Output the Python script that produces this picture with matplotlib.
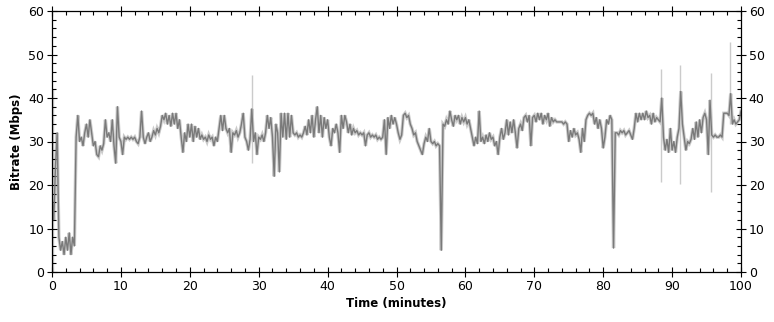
import numpy as np
import matplotlib
matplotlib.use("Agg")
import matplotlib.pyplot as plt
from matplotlib.ticker import MultipleLocator

# Time step of the sampled series (minutes)
step = 0.25
# Bitrate (Mbps), one row per 5 minutes, sampled every 0.25 minute
bitrate = [
    18, 12, 24, 32, 8, 5, 7, 4, 8, 5, 9, 4, 8, 6, 31, 36, 30, 31, 29, 32,
    34, 31, 35, 32, 29, 30, 27, 26.5, 29, 28, 29.5, 35, 31, 32, 30, 35, 29, 25, 38, 31,
    30, 27, 31, 30.5, 31, 30.5, 31, 30.5, 31, 30, 29.5, 31, 37, 31, 29.5, 31, 32, 30, 31, 32.5,
    31.5, 33, 32, 33.5, 36, 35, 36.5, 34, 36, 33.5, 36.5, 34, 36.5, 33, 35, 31, 27.5, 32, 30, 34,
    31, 34, 30, 33.5, 31, 33, 30.5, 31.5, 30.5, 31, 30, 31.5, 30.5, 31, 29, 31, 30, 33, 36, 32.5,
    36, 33, 32, 33, 27.5, 32, 31.5, 32.5, 31, 32, 34, 36.5, 31, 30, 28, 30.5, 37.5, 30, 32, 27,
    31, 30.5, 31.5, 30, 32, 36, 33, 35.5, 31, 22, 34, 32, 23, 36.5, 31, 36.5, 30.5, 36.5, 31, 36,
    32, 31.5, 32, 31, 31.5, 31, 32, 33.5, 31.5, 35, 32, 36, 31, 35, 38, 32, 36, 31, 35.5, 33,
    35, 31, 29, 33, 32, 34, 32, 27.5, 36, 33, 36, 34.5, 32, 34, 31.5, 33, 32, 32.5, 31.5, 32,
    31.5, 32, 29, 31.5, 32, 31, 31.5, 31, 31.5, 30.5, 31, 30.5, 31, 35, 27, 35.5, 33, 36, 34, 35.5,
    34, 32, 30.5, 31.5, 36, 36.5, 35.5, 36, 34, 33, 31.5, 32, 30, 29, 28, 27, 29.5, 31, 30, 33,
    30, 29.5, 30, 29, 29.5, 29, 5, 34, 33.5, 35, 34, 37, 35, 33.5, 36, 35, 36, 34, 35.5, 34.5,
    35.5, 34, 35, 33, 31, 29, 31, 29.5, 37, 30, 31, 29.5, 31.5, 30, 32, 30.5, 31, 29, 30, 27,
    31, 33, 30.5, 32, 35, 31.5, 34.5, 32, 35, 32, 28.5, 33, 34, 32.5, 35.5, 36, 34.5, 36, 29, 35.5,
    36, 34.5, 36.5, 35, 36.5, 34, 36, 35, 36.5, 33.5, 35.5, 34.5, 35, 34.5, 34.5, 34.5, 34.5, 34, 34.5, 34,
    30, 32.5, 31, 33, 31.5, 32, 30.5, 27.5, 33, 30, 35, 36, 36.5, 36, 36.5, 34, 35.5, 33, 35, 33,
    28.5, 31, 35, 34, 36, 35, 5.5, 32, 32, 31.5, 32.5, 32, 32.5, 31.5, 32, 32.5, 31.5, 30.5, 33, 36.5,
    34.5, 36.5, 35, 36.5, 35, 37, 35.5, 36, 34, 36.5, 34.5, 35.5, 35, 34.5, 40, 31, 28, 30.5, 27.5, 33,
    28, 30, 27.5, 31, 33, 41.5, 34, 31, 28, 30, 29.5, 30.5, 33, 30.5, 34.5, 31, 35, 32, 35.5, 36.5,
    35, 27, 39.5, 31.5, 31, 31.5, 31, 31, 31.5, 31, 36.5, 36.5, 36.5, 36, 41, 34, 35, 34, 34.5, 35,
    37,
]
time = np.arange(len(bitrate)) * step

# Isolated light-grey peak samples (time, high, low)
spike_time = [0.2, 29.1, 88.4, 91.2, 95.7, 98.4]
spike_high = [42, 45.3, 46.7, 47.6, 45.7, 52.9]
spike_low = [0, 25, 20.7, 20.3, 18.4, 34]

fig = plt.figure(figsize=(7.74, 3.22), dpi=100)
ax = fig.add_axes([52 / 774, 1 - 272 / 322, (741 - 52) / 774, (272 - 11) / 322])

light = "#cbcbcb"
dark = "#7a7a7a"
ax.plot(time, bitrate, color=light, lw=2.4, solid_joinstyle="miter", zorder=1)
ax.vlines(spike_time, spike_low, spike_high, color=light, lw=1.0, zorder=1)
ax.plot(time, bitrate, color=dark, lw=1.0, zorder=2)

ax.set_xlim(0, 100)
ax.set_ylim(0, 60)
ax.xaxis.set_major_locator(MultipleLocator(10))
ax.xaxis.set_minor_locator(MultipleLocator(2))
ax.yaxis.set_major_locator(MultipleLocator(10))
ax.yaxis.set_minor_locator(MultipleLocator(2))
ax.tick_params(which="major", direction="inout", length=7, width=0.8,
               top=True, right=True, labelright=True, labelsize=9, pad=2)
ax.tick_params(which="minor", direction="in", length=3, width=0.8,
               top=True, right=True)
for s in ax.spines.values():
    s.set_linewidth(0.9)
    s.set_color("black")

ax.set_xlabel("Time (minutes)", fontsize=8.5, fontweight="bold", labelpad=3)
ax.set_ylabel("Bitrate (Mbps)", fontsize=8.5, fontweight="bold", labelpad=4)

fig.savefig("out.png", dpi=100)
